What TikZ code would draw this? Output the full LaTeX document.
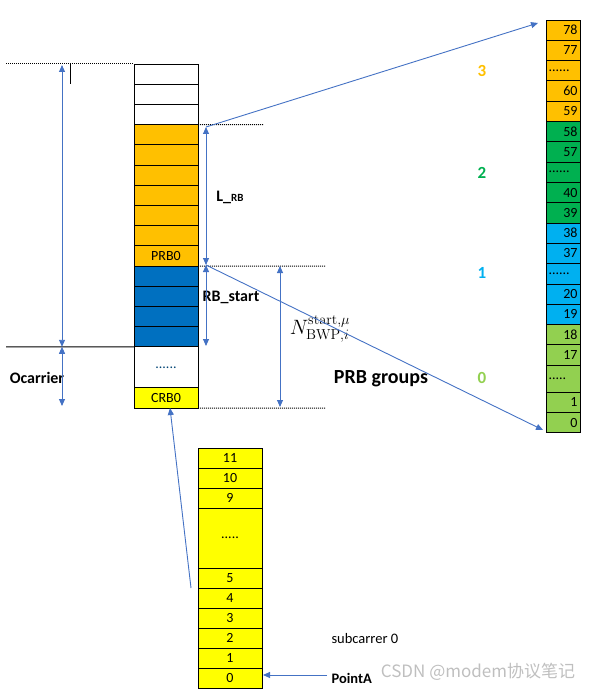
\documentclass[tikz,border=0pt]{standalone}
\usepackage[no-math]{fontspec}
\setmainfont{Carlito}
\newfontfamily\cjk{Noto Sans CJK SC}
\usetikzlibrary{arrows.meta,positioning}
\definecolor{rbOrange}{HTML}{FFC000}
\definecolor{rbBlue}{HTML}{0070C0}
\definecolor{rbYellow}{HTML}{FFFF00}
\definecolor{grpGreen}{HTML}{00B050}
\definecolor{grpSky}{HTML}{00B0F0}
\definecolor{grpLime}{HTML}{92D050}
\definecolor{arrowBlue}{HTML}{4472C4}
\begin{document}
\begin{tikzpicture}[x=1pt,y=-1pt,node distance=0pt,
  cell/.style={draw,line width=0.8pt,inner sep=0pt,outer sep=0pt,minimum height=20.2pt,
               font=\fontsize{14}{16}\selectfont},
  lcell/.style={cell,minimum width=64pt},
  rcell/.style={cell,minimum width=34pt,minimum height=20.3pt,text width=29pt,align=right},
  rdots/.style={rcell,align=left},
  scell/.style={cell,minimum width=64pt,minimum height=20pt,fill=rbYellow},
  lbl/.style={font=\bfseries\fontsize{16}{18}\selectfont},
  grp/.style={font=\bfseries\fontsize{17}{19}\selectfont},
  arrow/.style={-{Triangle[length=7pt,width=6pt]},draw=arrowBlue,line width=0.9pt},
  darrow/.style={{Triangle[length=7pt,width=6pt]}-{Triangle[length=7pt,width=6pt]},
                 draw=arrowBlue,line width=0.9pt},
  guide/.style={dash pattern=on 1pt off 1pt,line width=1pt}
]
\useasboundingbox (0,0) rectangle (602,692);
% CRB column
\node[lcell,anchor=north] (w1) at (166,64) {};
\node[lcell,below=of w1] (w2) {};
\node[lcell,below=of w2] (w3) {};
\node[lcell,fill=rbOrange,below=of w3] (o1) {};
\node[lcell,fill=rbOrange,below=of o1] (o2) {};
\node[lcell,fill=rbOrange,below=of o2] (o3) {};
\node[lcell,fill=rbOrange,below=of o3] (o4) {};
\node[lcell,fill=rbOrange,below=of o4] (o5) {};
\node[lcell,fill=rbOrange,below=of o5] (o6) {};
\node[lcell,fill=rbOrange,below=of o6] (prb0) {PRB0};
\node[lcell,fill=rbBlue,below=of prb0] (b1) {};
\node[lcell,fill=rbBlue,below=of b1] (b2) {};
\node[lcell,fill=rbBlue,below=of b2] (b3) {};
\node[lcell,fill=rbBlue,below=of b3] (b4) {};
\node[lcell,minimum height=41pt,text=rbBlue!60!black,below=of b4] (ldots) {......};
\node[lcell,fill=rbYellow,below=of ldots] (crb0) {CRB0};
% PRB group column
\node[rcell,fill=rbOrange,anchor=north] (r78) at (563,20) {78};
\node[rcell,fill=rbOrange,below=of r78] (r77) {77};
\node[rdots,fill=rbOrange,below=of r77] (rd3) {......};
\node[rcell,fill=rbOrange,below=of rd3] (r60) {60};
\node[rcell,fill=rbOrange,below=of r60] (r59) {59};
\node[rcell,fill=grpGreen,below=of r59] (r58) {58};
\node[rcell,fill=grpGreen,below=of r58] (r57) {57};
\node[rdots,fill=grpGreen,below=of r57] (rd2) {......};
\node[rcell,fill=grpGreen,below=of rd2] (r40) {40};
\node[rcell,fill=grpGreen,below=of r40] (r39) {39};
\node[rcell,fill=grpSky,below=of r39] (r38) {38};
\node[rcell,fill=grpSky,below=of r38] (r37) {37};
\node[rdots,fill=grpSky,below=of r37] (rd1) {......};
\node[rcell,fill=grpSky,below=of rd1] (r20) {20};
\node[rcell,fill=grpSky,below=of r20] (r19) {19};
\node[rcell,fill=grpLime,below=of r19] (r18) {18};
\node[rcell,fill=grpLime,below=of r18] (r17) {17};
\node[rdots,fill=grpLime,minimum height=27pt,below=of r17] (rd0) {.....};
\node[rcell,fill=grpLime,below=of rd0] (r1) {1};
\node[rcell,fill=grpLime,below=of r1] (r0) {0};
% subcarrier column
\node[scell,anchor=north] (s11) at (230,448) {11};
\node[scell,below=of s11] (s10) {10};
\node[scell,below=of s10] (s9) {9};
\node[scell,minimum height=60pt,below=of s9] (sdots) {.....};
\node[scell,below=of sdots] (s5) {5};
\node[scell,below=of s5] (s4) {4};
\node[scell,below=of s4] (s3) {3};
\node[scell,below=of s3] (s2) {2};
\node[scell,below=of s2] (s1) {1};
\node[scell,below=of s1] (s0) {0};
% labels
\node[lbl] (lrb) at (230,197) {L\_{\fontsize{11}{12}\selectfont RB}};
\node[lbl] (rbstart) at (231,297) {RB\_start};
\node[lbl] (ocarrier) at (37,378) {Ocarrier};
\node (nbwp) at (320,329) {\fontsize{19.5}{22}\selectfont$N_{\mathrm{BWP},i}^{\mathrm{start},\mu}$};
\node[font=\bfseries\fontsize{20}{22}\selectfont] (groups) at (381,379) {PRB groups};
\node[grp,text=rbOrange] (g3) at (482,71) {3};
\node[grp,text=grpGreen] (g2) at (482,173) {2};
\node[grp,text=grpSky] (g1) at (482,273) {1};
\node[grp,text=grpLime] (g0) at (482,378) {0};
\node[anchor=west,font=\fontsize{14.5}{16}\selectfont] (sub0) at (328,639) {subcarrer 0};
\node[anchor=west,font=\bfseries\fontsize{14.5}{16}\selectfont] (pointa) at (328,678) {PointA};
\node[font=\cjk\fontsize{17}{19}\selectfont,text=gray!50] (mark) at (478,672) {CSDN @modem协议笔记};
% guide lines
\draw[guide] (6,64) -- (w1.north west);
\draw[line width=1pt] (70,64) -- (70,84);
\draw[guide] (o1.north east) -- (263,124.6);
\draw[guide] (b1.north east) -- (325,266);
\draw[guide] (crb0.south east) -- (325,408);
\draw[line width=1pt] (6,346.8) -- (b4.south west);
% arrows
\coordinate (ocTop) at (62,65);
\coordinate (ocMid) at (62,346.8);
\coordinate (ocBot) at (62,406);
\coordinate (lrbTop) at (206,127);
\coordinate (lrbBot) at (206,265);
\coordinate (rbsBot) at (206,346);
\coordinate (nTop) at (280,266);
\coordinate (nBot) at (280,407);
\coordinate (hiEnd) at (538,23);
\coordinate (loEnd) at (543,430);
\coordinate (subFrom) at (191,588);
\coordinate (crbTo) at (170,408);
\coordinate (paTo) at (263,675);
\coordinate (paFrom) at (327,675);
\draw[darrow] (ocTop) -- (ocMid);
\draw[darrow] (ocMid) -- (ocBot);
\draw[darrow] (lrbTop) -- (lrbBot);
\draw[darrow] (lrbBot) -- (rbsBot);
\draw[darrow] (nTop) -- (nBot);
\draw[arrow] (lrbTop) -- (hiEnd);
\draw[arrow] (lrbBot) -- (loEnd);
\draw[arrow] (subFrom) -- (crbTo);
\draw[arrow] (paFrom) -- (paTo);
\end{tikzpicture}
\end{document}
